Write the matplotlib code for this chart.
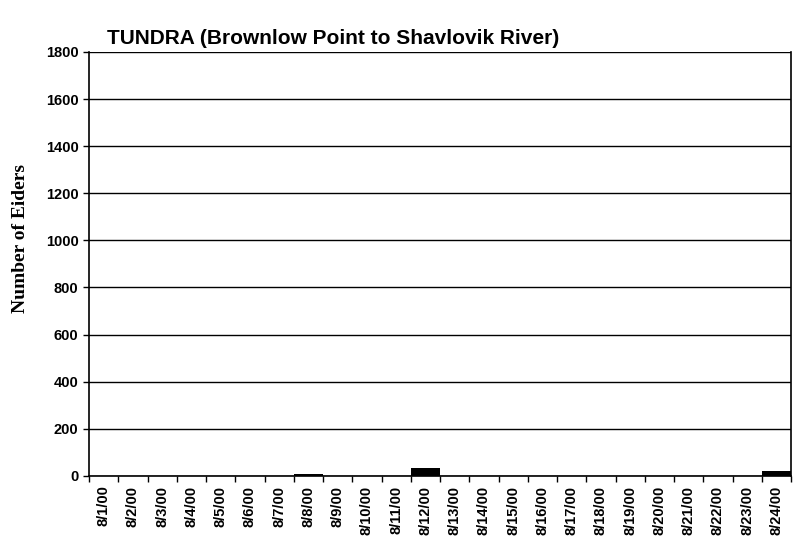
import matplotlib
matplotlib.use("Agg")
from matplotlib import pyplot as plt
import numpy as np

# data
dates = ["8/1/00", "8/2/00", "8/3/00", "8/4/00", "8/5/00", "8/6/00", "8/7/00",
         "8/8/00", "8/9/00", "8/10/00", "8/11/00", "8/12/00", "8/13/00", "8/14/00",
         "8/15/00", "8/16/00", "8/17/00", "8/18/00", "8/19/00", "8/20/00",
         "8/21/00", "8/22/00", "8/23/00", "8/24/00"]
eiders = [0, 0, 0, 0, 0, 0, 0, 6, 0, 0, 0, 32, 0, 0, 0, 0, 0, 0, 0, 0, 0, 0, 0, 22]
yticks = [0, 200, 400, 600, 800, 1000, 1200, 1400, 1600, 1800]

plt.rcParams['font.family'] = ['Liberation Sans', 'DejaVu Sans']

fig = plt.figure(figsize=(7.95, 5.47), dpi=100)
ax = fig.add_axes([0.112, 0.130, 0.883, 0.775])

x = np.arange(len(dates))
ax.bar(x, eiders, width=1.0, color='black', zorder=3)

ax.set_xlim(-0.5, len(dates) - 0.5)
ax.set_ylim(0, 1800)
ax.set_yticks(yticks)
ax.set_yticklabels([str(v) for v in yticks], fontsize=10.5, fontweight='bold')
ax.yaxis.grid(True, color='black', linewidth=1.0, zorder=0)

# ticks sit between categories, labels centred on them
ax.set_xticks(np.arange(-0.5, len(dates), 1))
ax.set_xticklabels([])
ax.set_xticks(x, minor=True)
ax.set_xticklabels(dates, minor=True, rotation=90, fontsize=10.5, fontweight='bold')
ax.tick_params(axis='x', which='minor', length=0, pad=7)
ax.tick_params(axis='x', which='major', length=4, direction='out', width=1)
ax.tick_params(axis='y', length=4, width=1)

for side in ['top']:
    ax.spines[side].set_visible(False)
for side in ['left', 'right', 'bottom']:
    ax.spines[side].set_linewidth(1.2)

ax.set_ylabel("Number of Eiders", fontsize=14, fontweight='bold',
              family=['Liberation Serif', 'DejaVu Serif'])
ax.yaxis.set_label_coords(-0.085, 0.56)
fig.text(0.135, 0.92, "TUNDRA (Brownlow Point to Shavlovik River)",
         fontsize=15, fontweight='bold')

fig.savefig("out.png", dpi=100)
